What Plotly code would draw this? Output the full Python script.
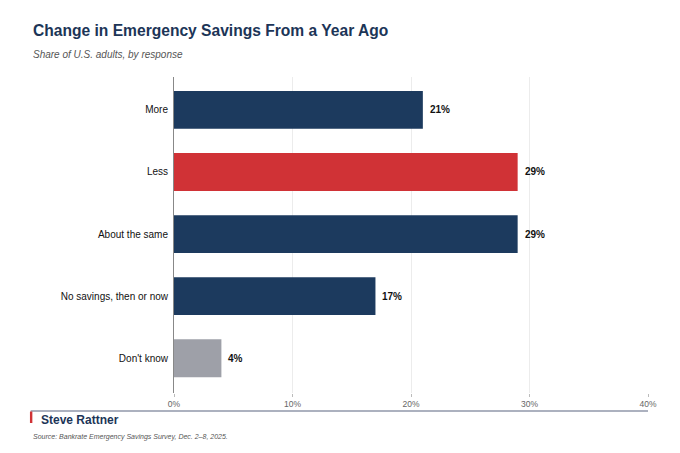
import plotly.graph_objects as go

# data
responses = ["More", "Less", "About the same", "No savings, then or now", "Don't know"]
shares = [21, 29, 29, 17, 4]
bar_colors = ["#1c3a5e", "#d03236", "#1c3a5e", "#1c3a5e", "#9ea0a8"]
tick_vals = [0, 10, 20, 30, 40]
tick_text = ["0%", "10%", "20%", "30%", "40%"]

# page has an 8px body margin, so the figure is drawn 16px smaller
OFF = 8
W, H = 680 - 2 * OFF, 453 - 2 * OFF
L, T = 173.5 - OFF, 77 - OFF
pw, ph = 474.5, 316
R, B = W - L - pw, H - T - ph

FONT = "Liberation Sans, Arial, sans-serif"

# screen pixel -> paper coords
def px(x):
    return (x - OFF - L) / pw

def py(y):
    return (H - B - (y - OFF)) / ph

fig = go.Figure(go.Bar(
    x=shares, y=responses, orientation="h",
    marker=dict(color=bar_colors, line=dict(width=0)),
    width=0.61, hoverinfo="skip",
))

# value labels just past the bar ends
for r, v in zip(responses, shares):
    fig.add_annotation(x=v, y=r, text=f"<b>{v}%</b>", showarrow=False,
                       xanchor="left", yanchor="middle", xshift=5,
                       font=dict(size=10, color="#111111", family=FONT))

fig.update_layout(
    width=W, height=H,
    margin=dict(l=L, r=R, t=T, b=B, autoexpand=False),
    paper_bgcolor="white", plot_bgcolor="white",
    font=dict(family=FONT, color="#222222"),
    showlegend=False,
)
fig.update_xaxes(
    range=[0, 40], tickvals=tick_vals, ticktext=tick_text,
    showgrid=True, gridcolor="#ececec", gridwidth=1,
    ticks="outside", ticklen=3, tickcolor="#bbbbbb",
    tickfont=dict(size=8.5, color="#666666"),
    zeroline=False, showline=False,
)
fig.update_yaxes(
    autorange=False, range=[4.56, -0.53],
    showline=True, linecolor="#888888", linewidth=1,
    tickfont=dict(size=10, color="#111111"), ticks="", ticklabelstandoff=3,
    showgrid=False,
)

ann = [
    dict(text="<b>Change in Emergency Savings From a Year Ago</b>", x=px(30), y=py(31),
         font=dict(size=15.6, color="#1c3557")),
    dict(text="<i>Share of U.S. adults, by response</i>", x=px(30), y=py(54),
         font=dict(size=10, color="#555555")),
    dict(text="<b>Steve Rattner</b>", x=px(38), y=py(419.5),
         font=dict(size=12, color="#1c3557")),
    dict(text="<i>Source: Bankrate Emergency Savings Survey, Dec. 2–8, 2025.</i>", x=px(30), y=py(436.5),
         font=dict(size=7, color="#555555")),
]
for a in ann:
    fig.add_annotation(xref="paper", yref="paper", xanchor="left", yanchor="middle",
                       showarrow=False, **a)

fig.add_shape(type="line", xref="paper", yref="paper",
              x0=px(30), x1=px(648), y0=py(411), y1=py(411),
              line=dict(color="#5a6480", width=1.2))
fig.add_shape(type="rect", xref="paper", yref="paper",
              x0=px(29.3), x1=px(31.7), y0=py(423), y1=py(411.5),
              fillcolor="#d03236", line=dict(width=0))

fig.write_html("out.html")
